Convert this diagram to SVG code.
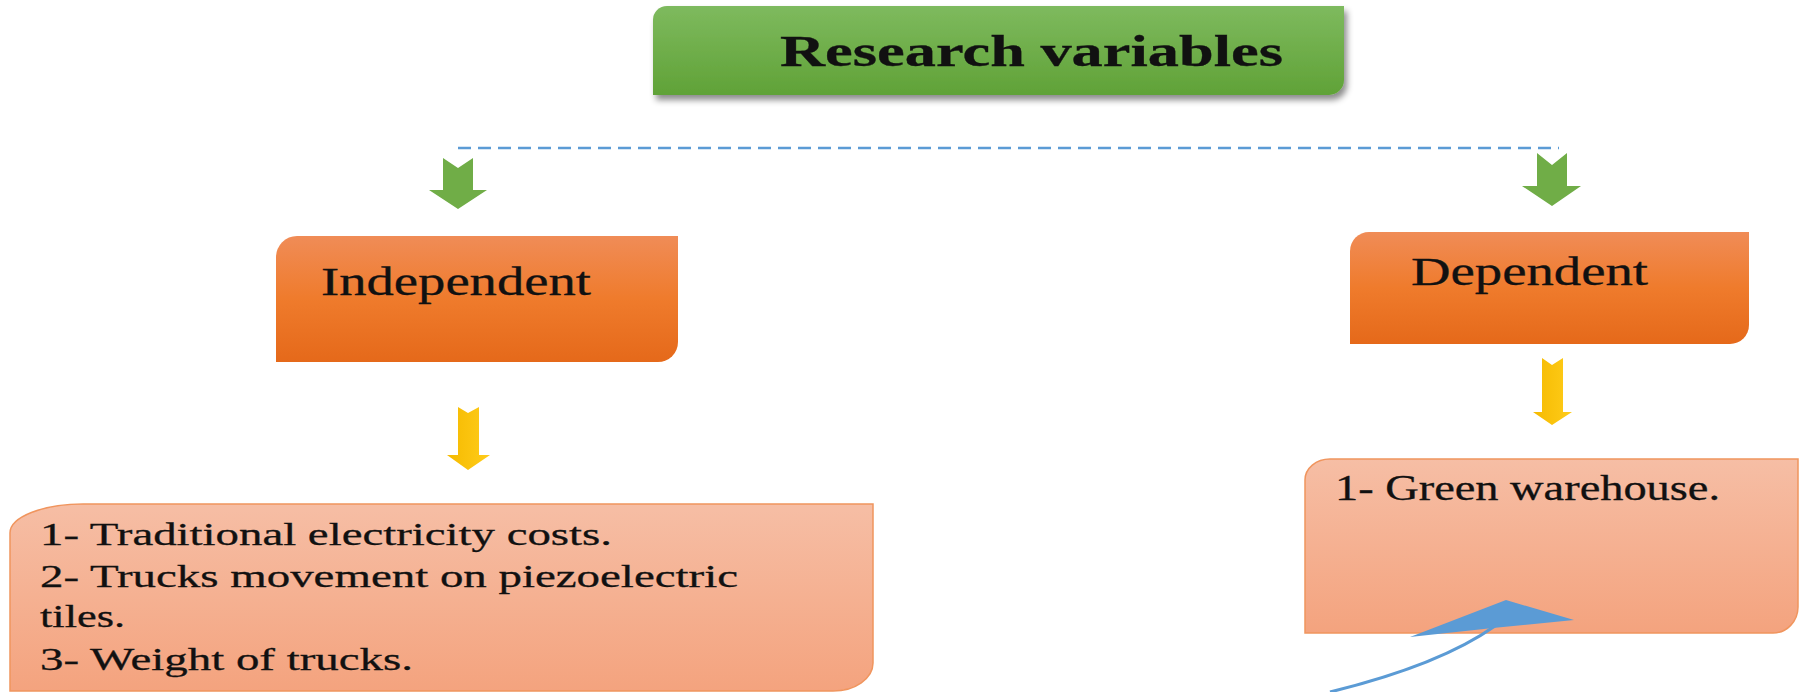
<svg xmlns="http://www.w3.org/2000/svg" width="1799" height="692" viewBox="0 0 1799 692">
<defs>
<linearGradient id="gGreen" x1="0" y1="0" x2="0" y2="1"><stop offset="0" stop-color="#7EBA5E"/><stop offset="1" stop-color="#60A237"/></linearGradient>
<linearGradient id="gOrange" x1="0" y1="0" x2="0" y2="1"><stop offset="0" stop-color="#F08C57"/><stop offset="0.5" stop-color="#EF7B2C"/><stop offset="1" stop-color="#E5691A"/></linearGradient>
<linearGradient id="gLight" x1="0" y1="0" x2="0" y2="1"><stop offset="0" stop-color="#F6BEA5"/><stop offset="1" stop-color="#F4A37E"/></linearGradient>
<linearGradient id="gYellow" x1="0" y1="0" x2="1" y2="0"><stop offset="0" stop-color="#F5BA00"/><stop offset="1" stop-color="#FFCC1A"/></linearGradient>
<filter id="shadow" x="-5%" y="-20%" width="112%" height="150%"><feDropShadow dx="3" dy="5" stdDeviation="3" flood-color="#000" flood-opacity="0.45"/></filter>
</defs>
<style>
.serif{font-family:"Liberation Serif","Times New Roman",serif;fill:#111;stroke:#111;stroke-width:0.3;}
.light{fill:url(#gLight);stroke:#F0955E;stroke-width:1.5;}
.orange{fill:url(#gOrange);}
.garrow{fill:#70AD47;}
.yarrow{fill:url(#gYellow);}
.dash{stroke:#5B9BD5;stroke-width:2.5;stroke-dasharray:13 7;fill:none;}
.curve{stroke:#5B9BD5;stroke-width:3;fill:none;}
</style>
<g id="connectors">
<line class="dash" x1="458" y1="148" x2="1559" y2="148"/>
<polygon class="garrow" points="443,158 458,168 473,158 473,190 487,190 458,209 429,190 443,190"/>
<polygon class="garrow" points="1537,153 1552,165 1567,153 1567,186 1581,186 1552,206 1522,186 1537,186"/>
<polygon class="yarrow" points="458,407 468,413 479,407 479,455 490,455 468,470 447,455 458,455"/>
<polygon class="yarrow" points="1542,358 1552,365 1563,358 1563,412 1572,412 1552,425 1533,412 1542,412"/>
</g>
<g id="title">
<path d="M653,20 A14,14 0 0 1 667,6 H1344 V80 A15,15 0 0 1 1329,95 H653 Z" fill="url(#gGreen)" filter="url(#shadow)"/>
<text class="serif" x="780" y="66" font-size="45" font-weight="bold" textLength="503" lengthAdjust="spacingAndGlyphs">Research variables</text>
</g>
<g id="independent">
<path class="orange" d="M276,257 A21,21 0 0 1 297,236 H678 V342 A20,20 0 0 1 658,362 H276 Z"/>
<text class="serif" x="321" y="295" font-size="39" textLength="270" lengthAdjust="spacingAndGlyphs">Independent</text>
</g>
<g id="dependent">
<path class="orange" d="M1350,251 A19,19 0 0 1 1369,232 H1749 V325 A19,19 0 0 1 1730,344 H1350 Z"/>
<text class="serif" x="1411" y="285" font-size="39" textLength="237" lengthAdjust="spacingAndGlyphs">Dependent</text>
</g>
<g id="independent-list">
<path class="light" d="M10,533 A73,29 0 0 1 83,504 H873 V663 A40,28 0 0 1 833,691 H10 Z"/>
<text class="serif" x="40" y="545" font-size="32" textLength="572" lengthAdjust="spacingAndGlyphs">1- Traditional electricity costs.</text>
<text class="serif" x="40" y="587" font-size="32" textLength="698" lengthAdjust="spacingAndGlyphs">2- Trucks movement on piezoelectric</text>
<text class="serif" x="40" y="627" font-size="32" textLength="85" lengthAdjust="spacingAndGlyphs">tiles.</text>
<text class="serif" x="40" y="670" font-size="32" textLength="373" lengthAdjust="spacingAndGlyphs">3- Weight of trucks.</text>
</g>
<g id="dependent-list">
<path class="light" d="M1305,480 A25,21 0 0 1 1330,459 H1798 V607 A25,26 0 0 1 1773,633 H1305 Z"/>
<text class="serif" x="1335" y="500" font-size="35" textLength="385" lengthAdjust="spacingAndGlyphs">1- Green warehouse.</text>
</g>
<g id="curved-arrow">
<path class="curve" d="M1330,692 Q1440,665 1495,626"/>
<polygon points="1410,637 1506,600 1574,620 1493,628" fill="#5B9BD5"/>
</g>
</svg>
